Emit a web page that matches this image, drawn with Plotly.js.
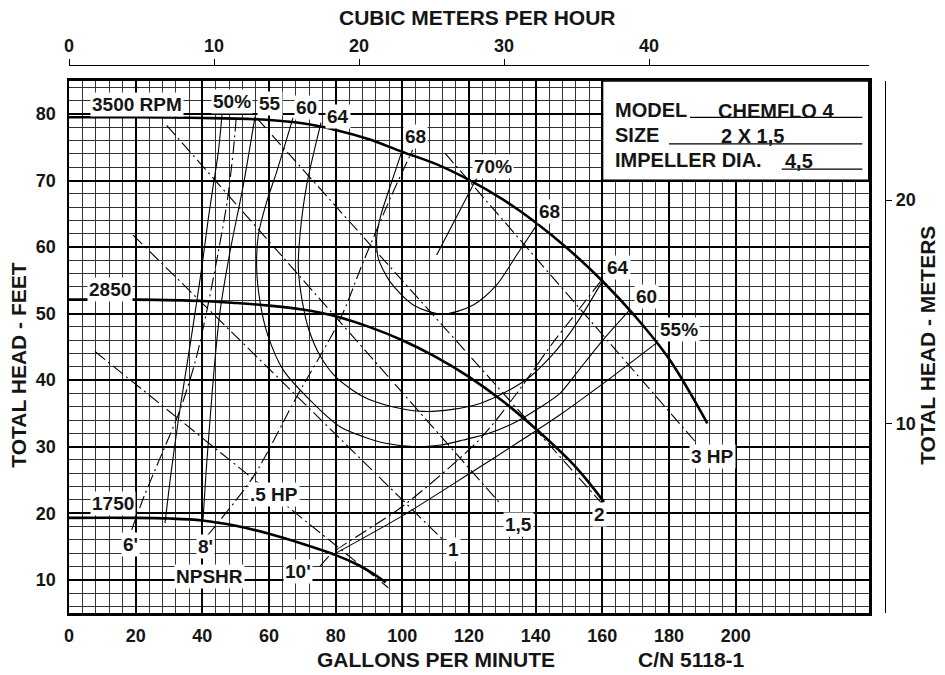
<!DOCTYPE html>
<html>
<head>
<meta charset="utf-8">
<script src="https://cdn.plot.ly/plotly-3.0.1.min.js"></script>
<style>html,body{margin:0;padding:0;background:#fff;}#chart{width:945px;height:675px;}</style>
</head>
<body>
<div id="chart"></div>
<script>
// ---------- tick labels ----------
const gpmTicks = [0, 20, 40, 60, 80, 100, 120, 140, 160, 180, 200];
const ftTicks = [10, 20, 30, 40, 50, 60, 70, 80];
const m3hTicks = [0, 10, 20, 30, 40];
const meterTicks = [10, 20];

// ---------- head curves (GPM, feet) ----------
const rpm3500Q = [0, 20, 40, 60, 70, 80, 90, 100, 110, 120, 130, 140, 150, 160, 170, 180, 191.5];
const rpm3500H = [79.5, 79.5, 79.4, 79.1, 78.6, 77.6, 76.2, 74.3, 72.5, 70.1, 67.2, 63.7, 59.6, 54.9, 49.5, 43.2, 33.5];
const rpm2850Q = [0, 20, 40, 50, 60, 70, 80, 90, 100, 110, 120, 130, 140, 150, 155, 160.5];
const rpm2850H = [52.1, 52.1, 51.9, 51.6, 51.2, 50.6, 49.6, 48.0, 46.0, 43.5, 40.5, 36.9, 32.7, 28.0, 25.2, 21.7];
const rpm1750Q = [0, 20, 30, 40, 50, 60, 70, 80, 86, 91, 95];
const rpm1750H = [19.3, 19.3, 19.2, 18.9, 18.1, 16.9, 15.4, 13.7, 12.4, 11.0, 9.6];

// ---------- efficiency contours ----------
const eff50Q = [46.0, 44.8, 43.2, 41.8, 39.8, 36.8, 34.5, 32.8, 30.6, 28.8];
const eff50H = [80.4, 74.3, 69.0, 64.3, 56.8, 46.8, 39.5, 34.0, 26.0, 18.5];
const eff55LQ = [55.8, 52.3, 48.3, 45.3, 43.6, 42.3, 41.1, 40.2];
const eff55LH = [79.6, 69.3, 59.3, 50.3, 42.0, 34.0, 26.0, 19.0];
const eff55RQ = [176.3, 160, 147.3, 134, 120.3, 100, 79];
const eff55RH = [45.6, 39.4, 34.8, 30.4, 26.0, 19.6, 13.7];
const eff60Q = [67.2, 62.3, 59.3, 56.8, 56.3, 57.3, 59.6, 64.3, 72.3, 81.3, 88.3, 95, 103.3, 111, 118.3, 126, 133.3, 141, 147.3, 152.3, 160.3, 168.3];
const eff60H = [79.4, 71.3, 66.8, 61.8, 56.8, 51.8, 46.8, 41.5, 37.0, 33.0, 31.5, 30.5, 30.0, 30.2, 31.0, 32.0, 33.5, 35.8, 38.0, 41.1, 46.1, 50.6];
const eff64Q = [75.6, 71.3, 69.3, 68.8, 70.0, 72.0, 75.5, 80, 88.3, 97, 106.3, 115, 123.3, 131, 138.3, 145, 150.3, 154.3, 160.3];
const eff64H = [78.7, 69.3, 61.8, 56.8, 51.8, 47.5, 43.5, 40.5, 37.5, 36.0, 35.3, 35.6, 36.5, 38.2, 40.5, 43.8, 47.1, 50.1, 55.1];
const eff68Q = [99.8, 96.8, 93.3, 92.3, 92.8, 96.3, 103.3, 112, 121.3, 128.3, 134.3, 140.3];
const eff68H = [74.3, 69.8, 64.3, 61.3, 58.3, 54.8, 51.3, 49.9, 51.3, 54.3, 58.8, 63.3];
const eff70Q = [110.3, 123.5];
const eff70H = [58.8, 71.5];

// ---------- horsepower lines ----------
const hp05Q = [7.8, 95.8];   const hp05H = [44.3, 8.8];
const hp1Q = [19.2, 112.2];  const hp1H = [61.8, 16.0];
const hp15Q = [29.3, 129.3]; const hp15H = [78.3, 21.5];
const hp2Q = [56.3, 159.8];  const hp2H = [79.4, 21.5];
const hp3Q = [112.8, 187.8]; const hp3H = [74.1, 30.8];

// ---------- NPSHR lines ----------
const npsh6Q = [18.8, 22.5, 27.5, 33.3, 38, 41.3, 44.8, 47.5, 49.3, 50.2];
const npsh6H = [17.5, 22.5, 28.5, 35.5, 43, 50.3, 59.3, 67, 74.5, 79.6];
const npsh8Q = [41.3, 55.3, 68.3, 81.3, 88.3, 96.8, 103.1];
const npsh8H = [16.5, 25.5, 37.5, 49.1, 57.8, 67.8, 74.6];
const npsh10Q = [75.3, 79, 100, 123, 134, 145, 152, 160.2];
const npsh10H = [12.0, 14.0, 21.0, 31.0, 37.8, 45.5, 50.0, 55.3];

// ---------- styling ----------
const FONT = 'Liberation Sans, Arial, sans-serif';
const INK = '#151515';
const DASH = '13px,4px,2px,4px';

function curve(q, h, width, dash, smooth) {
  return {x: q, y: h, type: 'scatter', mode: 'lines', hoverinfo: 'skip',
          line: {color: '#000', width: width, dash: dash || 'solid', shape: 'spline', smoothing: smooth || 0.8}};
}

const traces = [
  curve(eff50Q, eff50H, 1.1), curve(eff55LQ, eff55LH, 1.1), curve(eff55RQ, eff55RH, 1.1),
  curve(eff60Q, eff60H, 1.1), curve(eff64Q, eff64H, 1.1), curve(eff68Q, eff68H, 1.1),
  curve(eff70Q, eff70H, 1.1),
  curve(hp05Q, hp05H, 1.1, DASH), curve(hp1Q, hp1H, 1.1, DASH), curve(hp15Q, hp15H, 1.1, DASH),
  curve(hp2Q, hp2H, 1.1, DASH), curve(hp3Q, hp3H, 1.1, DASH),
  curve(npsh6Q, npsh6H, 1.1, DASH), curve(npsh8Q, npsh8H, 1.1, DASH), curve(npsh10Q, npsh10H, 1.1, DASH),
  curve(rpm3500Q, rpm3500H, 2.6, 'solid', 1.0), curve(rpm2850Q, rpm2850H, 2.6, 'solid', 1.0),
  curve(rpm1750Q, rpm1750H, 2.6, 'solid', 1.0),
  {x: [m3hTicks[0]], y: [meterTicks[0]], xaxis: 'x2', yaxis: 'y2', type: 'scatter', mode: 'markers',
   marker: {opacity: 0}, hoverinfo: 'skip'}
];

// curve labels (placed in data units)
const curveLabels = [
  {t: '3500 RPM', x: 20.4, y: 81.35}, {t: '50%', x: 48.8, y: 81.8}, {t: '55', x: 60.3, y: 81.5},
  {t: '60', x: 71.25, y: 80.9}, {t: '64', x: 80.55, y: 79.6}, {t: '68', x: 103.8, y: 76.55},
  {t: '70%', x: 127.2, y: 72.1}, {t: '68', x: 144.15, y: 65.4}, {t: '64', x: 164.7, y: 56.9},
  {t: '60', x: 173.3, y: 52.55}, {t: '55%', x: 183.0, y: 47.55}, {t: '3 HP', x: 192.9, y: 28.5},
  {t: '2', x: 159.0, y: 19.8}, {t: '1,5', x: 134.7, y: 18.3}, {t: '1', x: 115.2, y: 14.5},
  {t: '.5 HP', x: 61.5, y: 22.8}, {t: "10'", x: 68.7, y: 11.25}, {t: 'NPSHR', x: 42.0, y: 10.5},
  {t: "8'", x: 40.8, y: 15.0}, {t: "6'", x: 18.3, y: 15.25}, {t: '1750', x: 13.05, y: 21.5},
  {t: '2850', x: 12.3, y: 53.6}
];

const annotations = curveLabels.map(l => ({
  text: l.t, x: l.x, y: l.y, xref: 'x', yref: 'y', showarrow: false,
  xanchor: 'center', yanchor: 'middle', bgcolor: '#fff', borderpad: 1,
  font: {family: FONT, size: 19, color: INK, weight: 'bold'}
}));

// info box text
const boxText = [
  {t: 'MODEL', x: 163.2, y: 80.6, a: 'left'}, {t: 'CHEMFLO 4', x: 212.1, y: 80.5, a: 'center'},
  {t: 'SIZE', x: 163.2, y: 76.84, a: 'left'}, {t: '2 X 1,5', x: 204.9, y: 76.7, a: 'center'},
  {t: 'IMPELLER DIA.', x: 163.2, y: 73.1, a: 'left'}, {t: '4,5', x: 219.0, y: 73.0, a: 'center'}
];
boxText.forEach(b => annotations.push({
  text: b.t, x: b.x, y: b.y, xref: 'x', yref: 'y', showarrow: false, xanchor: b.a, yanchor: 'middle',
  font: {family: FONT, size: 20, color: INK, weight: 'bold'}
}));

// titles
const titles = [
  {t: 'CUBIC METERS PER HOUR', x: 0.5006, y: 1.0866, r: 0},
  {t: 'GALLONS PER MINUTE', x: 0.4498, y: -0.0852, r: 0},
  {t: 'C/N 5118-1', x: 0.7623, y: -0.0852, r: 0},
  {t: 'TOTAL HEAD - FEET', x: -0.0613, y: 0.4529, r: -90},
  {t: 'TOTAL HEAD - METERS', x: 1.0527, y: 0.4875, r: -90}
];
titles.forEach(t => annotations.push({
  text: t.t, x: t.x, y: t.y, xref: 'paper', yref: 'paper', showarrow: false, textangle: t.r,
  xanchor: 'center', yanchor: 'middle', font: {family: FONT, size: 21, color: INK, weight: 'bold'}
}));

const shapes = [
  {type: 'rect', xref: 'x', yref: 'y', x0: 160, x1: 240, y0: 70, y1: 85, fillcolor: '#fff',
   line: {color: '#000', width: 2}, layer: 'above'},
  {type: 'line', xref: 'x', yref: 'y', x0: 186.3, x1: 238, y0: 79.5, y1: 79.5, line: {color: '#000', width: 1.3}, layer: 'above'},
  {type: 'line', xref: 'x', yref: 'y', x0: 180.0, x1: 238, y0: 75.5, y1: 75.5, line: {color: '#000', width: 1.3}, layer: 'above'},
  {type: 'line', xref: 'x', yref: 'y', x0: 213.8, x1: 238, y0: 71.7, y1: 71.7, line: {color: '#000', width: 1.3}, layer: 'above'}
];

const tickFont = {family: FONT, size: 18, color: INK, weight: 'bold'};
const layout = {
  width: 945, height: 675,
  margin: {l: 69, r: 60, t: 65, b: 62, pad: 0},
  paper_bgcolor: '#fff', plot_bgcolor: '#fff',
  showlegend: false,
  xaxis: {domain: [0, 800 / 816], range: [0, 240], tickmode: 'array', tickvals: gpmTicks,
          ticks: '', showgrid: true, gridcolor: '#000', gridwidth: 2,
          minor: {tick0: 0, dtick: 4, showgrid: true, gridcolor: '#333', gridwidth: 1},
          showline: true, linecolor: '#000', linewidth: 2.5, mirror: true, zeroline: false,
          tickfont: tickFont, ticklabelstandoff: 5, fixedrange: true},
  yaxis: {domain: [0, 532.6 / 548.3], range: [5, 85], tickmode: 'array', tickvals: ftTicks,
          ticks: '', showgrid: true, gridcolor: '#000', gridwidth: 2,
          minor: {tick0: 0, dtick: 2, showgrid: true, gridcolor: '#333', gridwidth: 1},
          showline: true, linecolor: '#000', linewidth: 2.5, mirror: true, zeroline: false,
          tickfont: tickFont, ticklabelstandoff: 7, fixedrange: true},
  xaxis2: {overlaying: 'x', side: 'top', anchor: 'free', position: 1, domain: [0, 800 / 816],
           range: [0, 55.17], tickmode: 'array', tickvals: m3hTicks, ticks: 'outside', ticklen: 6,
           tickwidth: 1, tickcolor: '#000', showline: true, linecolor: '#000', linewidth: 1.2,
           showgrid: false, zeroline: false, tickfont: tickFont, fixedrange: true},
  yaxis2: {overlaying: 'y', side: 'right', anchor: 'free', position: 1, domain: [0, 532.6 / 548.3],
           range: [1.55, 25.33], tickmode: 'array', tickvals: meterTicks, ticks: 'outside', ticklen: 6,
           tickwidth: 1, tickcolor: '#000', showline: true, linecolor: '#000', linewidth: 1.2,
           showgrid: false, zeroline: false, tickfont: tickFont, fixedrange: true},
  annotations: annotations,
  shapes: shapes
};

Plotly.newPlot('chart', traces, layout, {displayModeBar: false, staticPlot: true});
</script>
</body>
</html>
